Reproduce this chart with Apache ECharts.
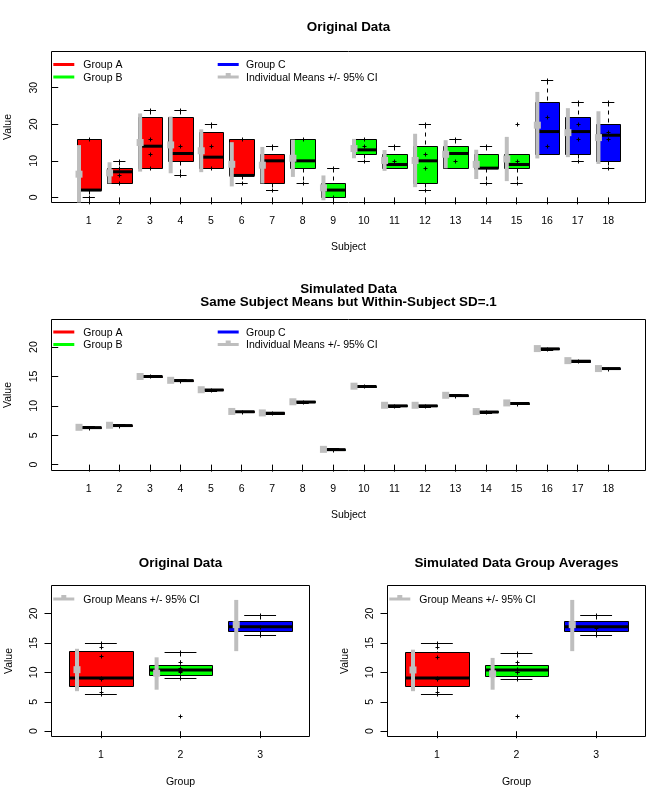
<!DOCTYPE html>
<html><head><meta charset="utf-8">
<script src="https://cdn.jsdelivr.net/npm/echarts@6/dist/echarts.min.js"></script>
<style>html,body{margin:0;padding:0;background:#fff}#c{width:672px;height:802px}</style>
</head><body><div id="c"></div>
<script>
// ---------- data ----------
const subjectTicks = [1,2,3,4,5,6,7,8,9,10,11,12,13,14,15,16,17,18];
const subjectGroup = [0,0,0,0,0,0,0,1,1,1,1,1,1,1,1,2,2,2];
const groupColors = ['#FF0000','#00FF00','#0000FF'];
const groupNames = ['Group A','Group B','Group C'];

// original data boxplots (per subject)
const origLow  = [0,4,8,6,8,4,2,4,0,10,8,2,8,4,4,12,10,8];
const origQ1   = [2,4,8,10,8,6,4,8,0,12,8,4,8,8,8,12,12,10];
const origMed  = [2,7,14,12,11,6,10,10,2,13,9,10,12,8,9,18,18,17];
const origQ3   = [16,8,22,22,18,16,12,16,4,16,12,14,14,12,12,26,22,20];
const origHigh = [16,10,24,24,20,16,14,16,8,16,14,20,16,14,12,32,26,26];
const origPoints = [[0,16],[4,6,8,10],[8,12,16,24],[6,14,24],[8,14,20],[4,16],[2,14],[4,16],[0,8],
  [10,14,16],[10,14],[2,8,12,20],[10,16],[4,14],[4,10,20],[14,22,32],[10,16,20,26],[8,16,18,26]];

// subject means and 95% CI
const subjectMeans = [6.35,6.7,15.0,14.35,12.75,9.05,8.8,10.7,2.6,13.35,10.1,10.1,11.8,9.03,10.5,19.75,17.7,16.35];
const origCiLow  = [-1.4,3.8,7.05,6.6,6.9,3.0,3.8,5.6,-0.8,10.7,7.25,2.8,7.95,5.03,4.45,10.65,11.0,9.15];
const origCiHigh = [14.3,9.6,22.95,22.1,18.6,15.1,13.8,15.8,6.0,16.0,12.95,17.4,15.65,13.03,16.55,28.85,24.4,23.55];

// simulated data (within-subject SD = .1)
const simLow  = [6.18,6.52,14.85,14.2,12.6,8.88,8.62,10.52,2.42,13.18,9.85,9.88,11.62,8.82,10.25,19.58,17.5,16.22];
const simQ1   = [6.25,6.6,14.95,14.25,12.65,8.95,8.7,10.6,2.5,13.25,9.95,9.95,11.7,8.9,10.35,19.65,17.55,16.3];
const simMed  = [6.3,6.65,15.0,14.3,12.7,9.0,8.75,10.65,2.55,13.3,10.0,10.0,11.75,8.95,10.4,19.7,17.6,16.35];
const simQ3   = [6.42,6.78,15.08,14.42,12.82,9.12,8.88,10.78,2.68,13.42,10.15,10.15,11.88,9.1,10.55,19.82,17.78,16.45];
const simHigh = [6.5,6.9,15.15,14.5,12.92,9.2,8.95,10.88,2.75,13.5,10.2,10.22,11.95,9.15,10.6,19.9,17.85,16.52];
const simMeans = [6.35,6.7,15.0,14.35,12.75,9.05,8.8,10.7,2.6,13.35,10.1,10.1,11.8,9.03,10.5,19.75,17.7,16.35];
const simCiLow  = [6.25,6.6,14.9,14.25,12.65,8.95,8.7,10.6,2.5,13.25,10.0,10.0,11.7,8.93,10.4,19.65,17.6,16.25];
const simCiHigh = [6.45,6.8,15.1,14.45,12.85,9.15,8.9,10.8,2.7,13.45,10.2,10.2,11.9,9.13,10.6,19.85,17.8,16.45];

// group level
const groupTicks = [1,2,3];
const grpOrigLow  = [6.33,9.03,16.35];
const grpOrigQ1   = [7.72,9.55,17.0];
const grpOrigMed  = [9.04,10.4,17.75];
const grpOrigQ3   = [13.6,11.24,18.72];
const grpOrigHigh = [15.0,13.4,19.75];
const grpOrigPoints = [[6.35,6.7,15.0,14.35,12.75,9.05,8.8],[10.7,2.6,13.4,10.1,10.2,11.8,9.03,10.5],[19.75,17.7,16.35]];
const grpOrigMean = [10.45,9.85,18.1];
const grpOrigCiLow  = [6.8,7.05,13.6];
const grpOrigCiHigh = [14.0,12.55,22.3];

const grpSimLow  = [6.33,8.93,16.35];
const grpSimQ1   = [7.7,9.38,17.0];
const grpSimMed  = [9.04,10.4,17.75];
const grpSimQ3   = [13.5,11.24,18.72];
const grpSimHigh = [15.0,13.3,19.75];
const grpSimPoints = [[6.33,6.72,15.0,14.3,12.66,9.0,8.8],[10.6,2.6,13.3,10.0,10.0,11.7,8.93,10.4],[19.7,17.6,16.35]];
const grpSimMean = [10.4,9.75,18.1];
const grpSimCiLow  = [6.8,7.05,13.6];
const grpSimCiHigh = [13.85,12.45,22.3];

// ---------- rendering helpers ----------
const FONT = '"Liberation Sans", Arial, sans-serif';
const GRAY = '#BEBEBE';
const crisp = v => Math.round(v) + 0.5;

function makeBoxRender(halfW, stapleHalf) {
  return function (params, api) {
    const x = api.value(0);
    const lo = api.value(1), q1 = api.value(2), med = api.value(3), q3 = api.value(4), hi = api.value(5);
    const color = groupColors[api.value(6)];
    const tl = api.coord([x - halfW, q3]);
    const br = api.coord([x + halfW, q1]);
    const xm = crisp(api.coord([x, med])[0]);
    const yMed = api.coord([x, med])[1];
    const yHi = crisp(api.coord([x, hi])[1]);
    const yLo = crisp(api.coord([x, lo])[1]);
    const sl = api.coord([x - stapleHalf, hi])[0];
    const sr = api.coord([x + stapleHalf, hi])[0];
    const x0 = crisp(tl[0]), x1 = crisp(br[0]);
    const yT = crisp(tl[1]), yB = crisp(br[1]);
    const dash = { stroke: '#000', lineWidth: 1, lineDash: [4, 4] };
    const solid = { stroke: '#000', lineWidth: 1 };
    const ch = [];
    if (yT - yHi > 0.5) ch.push({ type: 'line', shape: { x1: xm, y1: yHi, x2: xm, y2: yT }, style: dash });
    if (yLo - yB > 0.5) ch.push({ type: 'line', shape: { x1: xm, y1: yB, x2: xm, y2: yLo }, style: dash });
    ch.push({ type: 'line', shape: { x1: sl, y1: yHi, x2: sr, y2: yHi }, style: solid });
    ch.push({ type: 'line', shape: { x1: sl, y1: yLo, x2: sr, y2: yLo }, style: solid });
    ch.push({ type: 'rect', shape: { x: x0, y: yT, width: x1 - x0, height: Math.max(yB - yT, 0) }, style: { fill: color, stroke: '#000', lineWidth: 1 } });
    ch.push({ type: 'line', shape: { x1: x0, y1: yMed, x2: x1, y2: yMed }, style: { stroke: '#000', lineWidth: 3 } });
    return { type: 'group', children: ch };
  };
}
function plusRender(params, api) {
  const p = api.coord([api.value(0), api.value(1)]);
  const cx = crisp(p[0]), cy = crisp(p[1]);
  const st = { stroke: '#000', lineWidth: 1 };
  return { type: 'group', children: [
    { type: 'line', shape: { x1: cx - 2, y1: cy, x2: cx + 2, y2: cy }, style: st },
    { type: 'line', shape: { x1: cx, y1: cy - 2, x2: cx, y2: cy + 2 }, style: st }
  ] };
}
function makeCiRender(offset) {
  return function (params, api) {
    const x = api.value(0) + offset;
    const top = api.coord([x, api.value(3)]);
    const bot = api.coord([x, api.value(1)]);
    const m = api.coord([x, api.value(2)]);
    return { type: 'group', children: [
      { type: 'line', shape: { x1: top[0], y1: top[1], x2: bot[0], y2: bot[1] }, style: { stroke: GRAY, lineWidth: 4 } },
      { type: 'rect', shape: { x: m[0] - 3.5, y: m[1] - 3.5, width: 7, height: 7 }, style: { fill: GRAY } }
    ] };
  };
}

// ---------- layout ----------
const grids = [
  { left: 51.5, top: 51.5, width: 594, height: 151 },
  { left: 51.5, top: 319.5, width: 594, height: 151 },
  { left: 51.5, top: 585.5, width: 258, height: 151 },
  { left: 387.5, top: 585.5, width: 258, height: 151 }
];
const xRanges = [[-0.22, 19.22], [-0.22, 19.22], [0.38, 3.62], [0.38, 3.62]];
const yRanges = [[-1.4, 39.9], [-1.0, 24.7], [-0.9, 24.75], [-0.9, 24.75]];
const yTicksTop = [0, 10, 20, 30];
const yTicksSmall = [0, 5, 10, 15, 20];
const xTickSets = [subjectTicks, subjectTicks, groupTicks, groupTicks];
const yTickSets = [yTicksTop, yTicksSmall, yTicksSmall, yTicksSmall];

const xAxis = grids.map((g, i) => ({
  type: 'value', gridIndex: i, min: xRanges[i][0], max: xRanges[i][1],
  splitLine: { show: false }, axisLine: { show: false },
  axisTick: { show: true, length: 7, inside: false, lineStyle: { color: '#000', width: 1 }, customValues: xTickSets[i] },
  axisLabel: { customValues: xTickSets[i], color: '#000', fontSize: 10.5, fontFamily: FONT, margin: 13 }
}));
const yAxis = grids.map((g, i) => ({
  type: 'value', gridIndex: i, min: yRanges[i][0], max: yRanges[i][1],
  splitLine: { show: false }, axisLine: { show: false },
  axisTick: { show: true, length: 7, inside: false, lineStyle: { color: '#000', width: 1 }, customValues: yTickSets[i] },
  axisLabel: { customValues: yTickSets[i], color: '#000', fontSize: 10.5, fontFamily: FONT, margin: 12, rotate: 90 }
}));

// ---------- series data ----------
const topBoxes = subjectTicks.map((s, i) => [s, origLow[i], origQ1[i], origMed[i], origQ3[i], origHigh[i], subjectGroup[i]]);
const topPoints = [];
origPoints.forEach((arr, i) => arr.forEach(v => topPoints.push([subjectTicks[i], v])));
const topCi = subjectTicks.map((s, i) => [s, origCiLow[i], subjectMeans[i], origCiHigh[i]]);

const midBoxes = subjectTicks.map((s, i) => [s, simLow[i], simQ1[i], simMed[i], simQ3[i], simHigh[i], subjectGroup[i]]);
const midPoints = subjectTicks.map((s, i) => [s, simMed[i]]);
const midCi = subjectTicks.map((s, i) => [s, simCiLow[i], simMeans[i], simCiHigh[i]]);

const blBoxes = groupTicks.map((g, i) => [g, grpOrigLow[i], grpOrigQ1[i], grpOrigMed[i], grpOrigQ3[i], grpOrigHigh[i], i]);
const blPoints = [];
grpOrigPoints.forEach((arr, i) => arr.forEach(v => blPoints.push([groupTicks[i], v])));
const blCi = groupTicks.map((g, i) => [g, grpOrigCiLow[i], grpOrigMean[i], grpOrigCiHigh[i]]);

const brBoxes = groupTicks.map((g, i) => [g, grpSimLow[i], grpSimQ1[i], grpSimMed[i], grpSimQ3[i], grpSimHigh[i], i]);
const brPoints = [];
grpSimPoints.forEach((arr, i) => arr.forEach(v => brPoints.push([groupTicks[i], v])));
const brCi = groupTicks.map((g, i) => [g, grpSimCiLow[i], grpSimMean[i], grpSimCiHigh[i]]);

function panelSeries(idx, boxes, points, ci, ciOffset) {
  const base = { type: 'custom', coordinateSystem: 'cartesian2d', xAxisIndex: idx, yAxisIndex: idx, silent: true, animation: false };
  return [
    Object.assign({}, base, { name: 'box' + idx, data: boxes, renderItem: makeBoxRender(0.4, 0.2) }),
    Object.assign({}, base, { name: 'pts' + idx, data: points, renderItem: plusRender }),
    Object.assign({}, base, { name: 'ci' + idx, data: ci, renderItem: makeCiRender(ciOffset) })
  ];
}
const series = [].concat(
  panelSeries(0, topBoxes, topPoints, topCi, -0.32),
  panelSeries(1, midBoxes, midPoints, midCi, -0.32),
  panelSeries(2, blBoxes, blPoints, blCi, -0.3),
  panelSeries(3, brBoxes, brPoints, brCi, -0.3)
);

// ---------- text & legends ----------
const graphic = [];
function txt(x, y, text, opts) {
  opts = opts || {};
  graphic.push({ type: 'text', x: x, y: y, rotation: opts.rot || 0, silent: true, style: {
    text: text, fill: '#000', align: opts.align || 'center', verticalAlign: 'middle',
    fontFamily: FONT, fontSize: opts.size || 10.5, fontWeight: opts.bold ? 'bold' : 'normal' } });
}
const TITLE = 13.4;
// titles
txt(348.5, 27, 'Original Data', { bold: true, size: TITLE });
txt(348.5, 289, 'Simulated Data', { bold: true, size: TITLE });
txt(348.5, 302, 'Same Subject Means but Within-Subject SD=.1', { bold: true, size: TITLE });
txt(180.5, 563, 'Original Data', { bold: true, size: TITLE });
txt(516.5, 563, 'Simulated Data Group Averages', { bold: true, size: TITLE });
// axis names
txt(348.5, 247, 'Subject');
txt(348.5, 515, 'Subject');
txt(180.5, 782, 'Group');
txt(516.5, 782, 'Group');
txt(8, 127, 'Value', { rot: Math.PI / 2 });
txt(8, 395, 'Value', { rot: Math.PI / 2 });
txt(9, 661, 'Value', { rot: Math.PI / 2 });
txt(345, 661, 'Value', { rot: Math.PI / 2 });

function legLine(x, y, color, withSquare) {
  graphic.push({ type: 'line', silent: true, shape: { x1: x, y1: y, x2: x + 21, y2: y }, style: { stroke: color, lineWidth: 3 } });
  if (withSquare) graphic.push({ type: 'rect', silent: true, shape: { x: x + 8, y: y - 4, width: 5, height: 5 }, style: { fill: color } });
}
function subjectLegend(y0) {
  legLine(53.3, y0, groupColors[0]); txt(83.3, y0 + 1, groupNames[0], { align: 'left' });
  legLine(53.3, y0 + 12.5, groupColors[1]); txt(83.3, y0 + 13.5, groupNames[1], { align: 'left' });
  legLine(217.7, y0, groupColors[2]); txt(246, y0 + 1, groupNames[2], { align: 'left' });
  legLine(217.7, y0 + 12.5, GRAY, true); txt(246, y0 + 13.5, 'Individual Means +/- 95% CI', { align: 'left' });
}
subjectLegend(64.5);
subjectLegend(332);
legLine(53.3, 599, GRAY, true); txt(83.3, 600, 'Group Means +/- 95% CI', { align: 'left' });
legLine(389.3, 599, GRAY, true); txt(419.3, 600, 'Group Means +/- 95% CI', { align: 'left' });

const chart = echarts.init(document.getElementById('c'), null, { renderer: 'canvas' });
chart.setOption({
  animation: false,
  backgroundColor: '#fff',
  grid: grids.map(g => Object.assign({ show: true, borderColor: '#000', borderWidth: 1, backgroundColor: 'transparent', containLabel: false }, g)),
  xAxis: xAxis,
  yAxis: yAxis,
  series: series,
  graphic: graphic
});
</script></body></html>
